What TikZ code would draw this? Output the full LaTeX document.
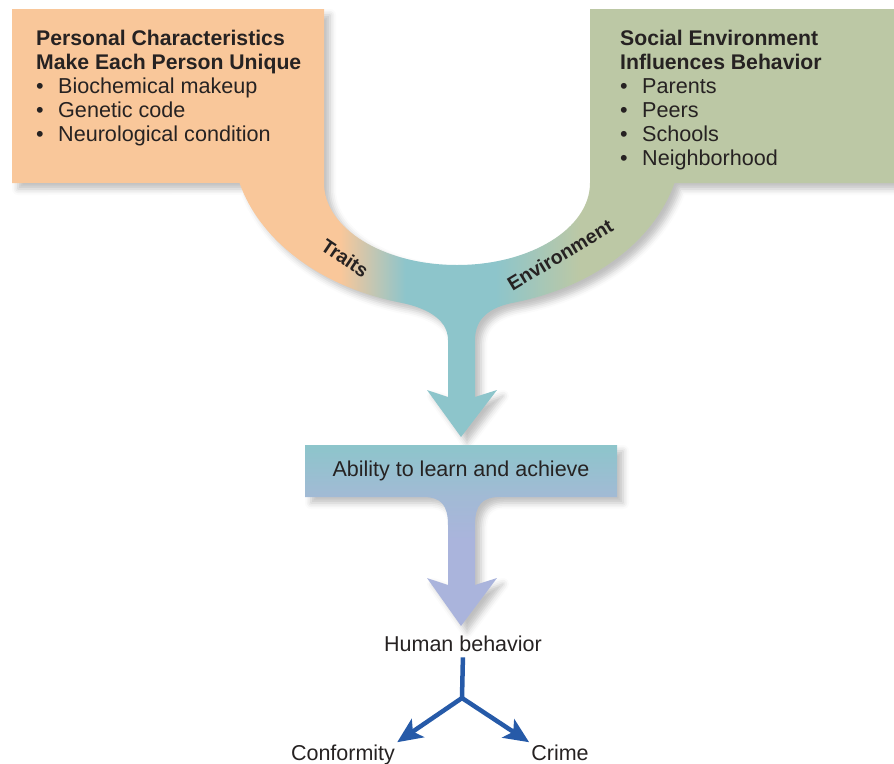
\documentclass[tikz,border=0pt]{standalone}
\usepackage{fontspec}
\setmainfont{Liberation Sans}
\usepackage{tikz}
\usetikzlibrary{arrows.meta,shadows.blur}

\definecolor{peach}{RGB}{249,199,154}
\definecolor{sage}{RGB}{188,200,165}
\definecolor{uteal}{RGB}{141,197,203}
\definecolor{lavend}{RGB}{170,180,220}
\definecolor{boxbot}{RGB}{162,186,213}
\definecolor{branchblue}{RGB}{38,90,168}
\definecolor{txt}{RGB}{38,34,34}

% colour runs across the U and down the two arrows
\pgfdeclarehorizontalshading{ushade}{100bp}{color(0bp)=(peach); color(43.6bp)=(peach); color(47.3bp)=(uteal); color(52.4bp)=(uteal); color(57.2bp)=(sage); color(100bp)=(sage)}
\pgfdeclareverticalshading{ashade}{100bp}{color(0bp)=(lavend); color(48.8bp)=(lavend); color(60.6bp)=(boxbot); color(75bp)=(uteal); color(100bp)=(uteal)}

\newcommand{\itembul}{\makebox[22pt][l]{\textbullet}}
\newcommand{\boxhead}[1]{{\fontsize{21.2}{24}\selectfont\bfseries #1}}

\tikzset{
    %Define style for the texts in the boxes
    listtext/.style={
           anchor=north west,
           align=left,
           inner sep=0pt,
           text=txt,
           font=\fontsize{21.6}{24}\selectfont},
    %Define style for the words on the U
    bandtext/.style={
           inner sep=0pt,
           text=txt,
           font=\fontsize{19.5}{21}\selectfont\bfseries},
    plaintext/.style={
           inner sep=2pt,
           text=txt,
           font=\fontsize{21.5}{24}\selectfont},
    softshadow/.style={
           blur shadow={shadow xshift=6pt, shadow yshift=-6pt,
                        shadow blur radius=6pt, shadow opacity=25}},
    % Define arrow style
    branch/.style={
           draw=branchblue,
           line width=4.5pt},
    branchtip/.style={
           branch,
           -{Stealth[length=25pt, width=22pt, inset=6pt]}}
}

\begin{document}
\begin{tikzpicture}[x=1pt,y=-1pt]
\useasboundingbox (0,0) rectangle (894,763);
 %shapes
\shade[shading=ushade, softshadow] (12,9) -- (324,9) -- (324,183)
    arc[start angle=180, end angle=0, x radius=133, y radius=82]
    -- (590,9) -- (894,9) -- (894,183) -- (674.5,183)
    arc[start angle=14.8, end angle=75, x radius=225, y radius=168]
    .. controls (490,307) and (475,318) .. (475,340)
    -- (475,397) -- (497,390) -- (461,437) -- (427,390) -- (448,397) -- (448,340)
    .. controls (448,318) and (424,307) .. (398.8,302.3)
    arc[start angle=105, end angle=165.2, x radius=225, y radius=168]
    -- (12,183) -- cycle;
\shade[shading=ashade, softshadow] (305,445) -- (617,445) -- (617,497) -- (500,497)
    .. controls (482,497) and (475,505) .. (475,525)
    -- (475,585) -- (497,578) -- (461,626) -- (427,578) -- (448,585) -- (448,525)
    .. controls (448,505) and (441,497) .. (423,497) -- (305,497) -- cycle;
 %nodes
\node[listtext] (personal) at (36,30) {\boxhead{Personal Characteristics}\\
    \boxhead{Make Each Person Unique}\\
    \itembul Biochemical makeup\\
    \itembul Genetic code\\
    \itembul Neurological condition};
\node[listtext] (social) at (620,30) {\boxhead{Social Environment}\\
    \boxhead{Influences Behavior}\\
    \itembul Parents\\
    \itembul Peers\\
    \itembul Schools\\
    \itembul Neighborhood};
\node[bandtext, rotate=-34] (traits) at (345,258) {Traits};
\node[bandtext, rotate=31] (environ) at (560,255) {Environment};
\node[plaintext] (ability) at (461,471) {Ability to learn and achieve};
\node[plaintext, anchor=base] (behavior) at (463,651) {Human behavior};
\node[plaintext, anchor=base] (conform) at (343,760) {Conformity};
\node[plaintext, anchor=base] (crime) at (560,760) {Crime};
\coordinate (fork) at (462,698);
\draw[branch, shorten <=4pt] (behavior.south) -- (fork);
\draw[branchtip] (fork) -- (conform.north east);
\draw[branchtip] (fork) -- (crime.north west);
\end{tikzpicture}
\end{document}
